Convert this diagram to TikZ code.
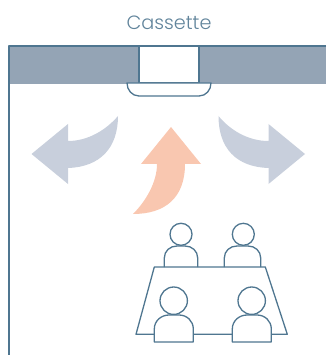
\documentclass[tikz,border=0pt]{standalone}
\usepackage{fontspec}
\setmainfont{Poppins}[Extension=.ttf,UprightFont=*-Light]
\definecolor{ln}{HTML}{4F7690}
\definecolor{band}{HTML}{94A4B5}
\definecolor{cool}{HTML}{C8CFDC}
\definecolor{warm}{HTML}{F9C7B0}
\tikzset{
  outline/.style={draw=ln,line width=1.3pt,line join=round},
  person/.style={outline,fill=white},
}
\begin{document}
\begin{tikzpicture}[x=1pt,y=-1pt]
\useasboundingbox (0,0) rectangle (326,355);
% ceiling
\fill[band] (9,46) rectangle (326,84);
\draw[outline] (326,46) -- (9,46) -- (9,355);
\draw[outline,fill=white] (139,46) rectangle (199,83);
\draw[outline,fill=white] (127,83) -- (211,83) .. controls (211,90) and (206,96) .. (199,96) -- (139,96) .. controls (132,96) and (127,90) .. (127,83) -- cycle;
\node[text=ln!90!white,font=\fontsize{19.2}{22}\selectfont,inner sep=0pt] (title) at (169,22.5) {Cassette};
% arrows
\fill[cool] (31.5,154) -- (68,124) -- (68,141) .. controls (88,141) and (106,130) .. (118,116) .. controls (118,148) and (100,167) .. (68,168) -- (68,184) -- cycle;
\fill[cool] (305,154) -- (268.500,124) -- (268.500,141) .. controls (248,141) and (230,130) .. (218.500,116) .. controls (218.500,148) and (236,167) .. (268.500,168) -- (268.500,184) -- cycle;
\fill[warm] (171,127) -- (141,164) -- (157,164) .. controls (157,182) and (146,201) .. (133,214) .. controls (165,214) and (185,198) .. (185,164) -- (201,164) -- cycle;
% back people
\draw[outline] (181,234.3) circle (11);
\draw[outline] (243.300,234.3) circle (11);
\draw[person] (164.300,267) -- (164.300,258) .. controls (164.300,251) and (170,246) .. (177,246) -- (185,246) .. controls (192,246) and (197.700,251) .. (197.700,258) -- (197.700,267);
\draw[person] (224.300,267) -- (224.300,258) .. controls (224.300,251) and (230,246) .. (237,246) -- (248,246) .. controls (255,246) and (260.700,251) .. (260.700,258) -- (260.700,267);
% table
\draw[outline] (154.300,267) -- (265.300,267) -- (287.300,334.3) -- (136,334.3) -- cycle;
% front people
\draw[outline] (173.700,300.7) circle (13.700);
\draw[outline] (251.700,300.7) circle (13.700);
\draw[person] (154.300,342) -- (154.300,329) .. controls (154.300,321) and (161,315) .. (169,315) -- (179,315) .. controls (187,315) and (193.300,321) .. (193.300,329) -- (193.300,342) -- cycle;
\draw[person] (232.300,342) -- (232.300,329) .. controls (232.300,321) and (239,315) .. (247,315) -- (257,315) .. controls (265,315) and (271.300,321) .. (271.300,329) -- (271.300,342) -- cycle;
\end{tikzpicture}
\end{document}
